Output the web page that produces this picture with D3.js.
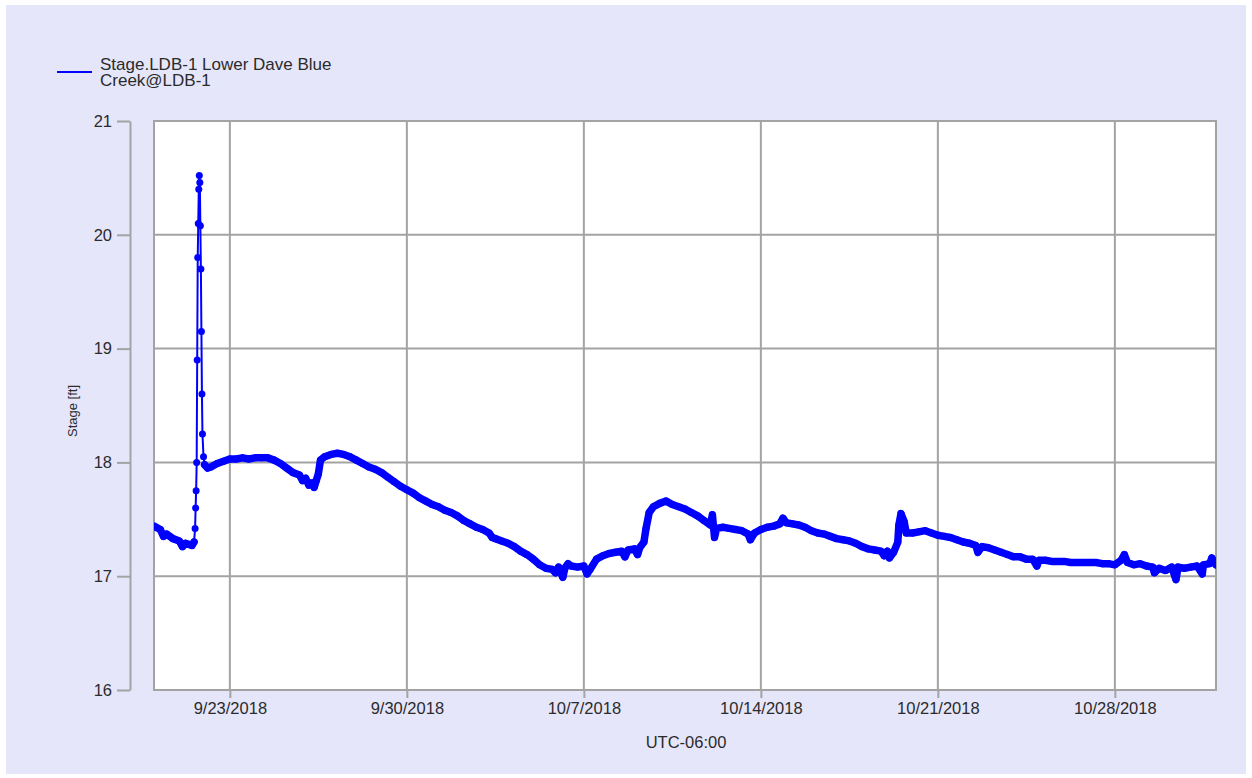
<!DOCTYPE html>
<html>
<head>
<meta charset="utf-8">
<script src="https://cdn.jsdelivr.net/npm/d3@7"></script>
<style>
  body { margin: 0; background: #ffffff; }
  text { font-family: "Liberation Sans", Arial, sans-serif; }
</style>
</head>
<body>
<div id="stageChartContainer"></div>
<script>

var chartConfig = {
  w: 1252,
  h: 778,
  left: 154,
  top: 121,
  right: 1216,
  bot: 690,
  yAxisX: 130
}

// legend text (two lines as in the original)
var legendLines = ["Stage.LDB-1 Lower Dave Blue", "Creek@LDB-1"];

var yTicks = [16, 17, 18, 19, 20, 21];
var xTickDates = ["2018-09-23", "2018-09-30", "2018-10-07", "2018-10-14", "2018-10-21", "2018-10-28"];
var xDomain = ["2018-09-20 00:00", "2018-11-01 00:00"];
var yDomain = [16, 21];

// stage readings [time, ft]
var stageReadings = [
  ["2018-09-20 00:00", 17.44], ["2018-09-20 06:00", 17.41], ["2018-09-20 09:00", 17.35], ["2018-09-20 12:00", 17.37],
  ["2018-09-20 18:00", 17.33], ["2018-09-21 00:00", 17.31], ["2018-09-21 03:00", 17.26], ["2018-09-21 06:00", 17.29],
  ["2018-09-21 12:00", 17.27], ["2018-09-21 14:00", 17.30], ["2018-09-21 15:00", 17.42], ["2018-09-21 15:30", 17.60],
  ["2018-09-21 16:00", 17.75], ["2018-09-21 16:30", 18.00], ["2018-09-21 17:00", 18.90], ["2018-09-21 17:30", 19.80],
  ["2018-09-21 18:00", 20.10], ["2018-09-21 18:30", 20.40], ["2018-09-21 19:00", 20.52], ["2018-09-21 19:30", 20.46],
  ["2018-09-21 20:00", 20.08], ["2018-09-21 20:30", 19.70], ["2018-09-21 21:00", 19.15], ["2018-09-21 21:30", 18.60],
  ["2018-09-21 22:00", 18.25], ["2018-09-21 23:00", 18.05], ["2018-09-22 00:00", 17.98], ["2018-09-22 03:00", 17.95],
  ["2018-09-22 06:00", 17.96], ["2018-09-22 12:00", 17.99], ["2018-09-22 18:00", 18.01],
  ["2018-09-23 00:00", 18.03], ["2018-09-23 06:00", 18.03], ["2018-09-23 12:00", 18.04], ["2018-09-23 18:00", 18.03],
  ["2018-09-24 00:00", 18.04], ["2018-09-24 06:00", 18.04], ["2018-09-24 12:00", 18.04], ["2018-09-24 18:00", 18.02],
  ["2018-09-25 00:00", 17.99], ["2018-09-25 06:00", 17.95], ["2018-09-25 12:00", 17.91], ["2018-09-25 18:00", 17.89],
  ["2018-09-25 21:00", 17.84], ["2018-09-26 00:00", 17.86], ["2018-09-26 03:00", 17.80], ["2018-09-26 06:00", 17.82],
  ["2018-09-26 08:00", 17.78], ["2018-09-26 10:00", 17.84], ["2018-09-26 12:00", 17.90], ["2018-09-26 14:00", 18.02],
  ["2018-09-26 18:00", 18.05], ["2018-09-27 00:00", 18.07], ["2018-09-27 06:00", 18.08], ["2018-09-27 12:00", 18.07],
  ["2018-09-27 18:00", 18.05], ["2018-09-28 00:00", 18.02], ["2018-09-28 06:00", 17.99], ["2018-09-28 12:00", 17.96],
  ["2018-09-28 18:00", 17.94], ["2018-09-29 00:00", 17.91], ["2018-09-29 06:00", 17.87], ["2018-09-29 12:00", 17.83],
  ["2018-09-29 18:00", 17.79], ["2018-09-30 00:00", 17.76], ["2018-09-30 06:00", 17.73], ["2018-09-30 12:00", 17.69],
  ["2018-09-30 18:00", 17.66], ["2018-10-01 00:00", 17.63], ["2018-10-01 06:00", 17.61], ["2018-10-01 12:00", 17.58],
  ["2018-10-01 18:00", 17.56], ["2018-10-02 00:00", 17.53], ["2018-10-02 06:00", 17.49], ["2018-10-02 12:00", 17.46],
  ["2018-10-02 18:00", 17.43], ["2018-10-03 00:00", 17.41], ["2018-10-03 06:00", 17.38], ["2018-10-03 09:00", 17.34],
  ["2018-10-03 12:00", 17.33], ["2018-10-03 18:00", 17.31], ["2018-10-04 00:00", 17.29], ["2018-10-04 06:00", 17.26],
  ["2018-10-04 12:00", 17.22], ["2018-10-04 18:00", 17.19], ["2018-10-05 00:00", 17.15], ["2018-10-05 06:00", 17.10],
  ["2018-10-05 12:00", 17.07], ["2018-10-05 18:00", 17.06], ["2018-10-05 21:00", 17.03], ["2018-10-06 00:00", 17.08],
  ["2018-10-06 04:00", 16.99], ["2018-10-06 06:00", 17.07], ["2018-10-06 09:00", 17.11], ["2018-10-06 12:00", 17.09],
  ["2018-10-06 18:00", 17.08], ["2018-10-07 00:00", 17.09], ["2018-10-07 03:00", 17.02], ["2018-10-07 06:00", 17.06],
  ["2018-10-07 12:00", 17.15], ["2018-10-07 18:00", 17.18], ["2018-10-08 00:00", 17.20], ["2018-10-08 06:00", 17.21],
  ["2018-10-08 12:00", 17.22], ["2018-10-08 15:00", 17.17], ["2018-10-08 18:00", 17.23], ["2018-10-09 00:00", 17.24],
  ["2018-10-09 03:00", 17.19], ["2018-10-09 05:00", 17.25], ["2018-10-09 09:00", 17.30], ["2018-10-09 11:00", 17.42],
  ["2018-10-09 14:00", 17.56], ["2018-10-09 18:00", 17.61], ["2018-10-10 00:00", 17.64], ["2018-10-10 06:00", 17.66],
  ["2018-10-10 12:00", 17.63], ["2018-10-10 18:00", 17.61], ["2018-10-11 00:00", 17.59], ["2018-10-11 06:00", 17.56],
  ["2018-10-11 12:00", 17.53], ["2018-10-11 18:00", 17.49], ["2018-10-12 00:00", 17.45], ["2018-10-12 02:00", 17.54],
  ["2018-10-12 04:00", 17.34], ["2018-10-12 06:00", 17.42], ["2018-10-12 12:00", 17.43], ["2018-10-12 18:00", 17.42],
  ["2018-10-13 00:00", 17.41], ["2018-10-13 06:00", 17.40], ["2018-10-13 12:00", 17.37], ["2018-10-13 14:00", 17.32],
  ["2018-10-13 18:00", 17.38], ["2018-10-14 00:00", 17.41], ["2018-10-14 06:00", 17.43], ["2018-10-14 12:00", 17.44],
  ["2018-10-14 18:00", 17.46], ["2018-10-14 21:00", 17.51], ["2018-10-15 00:00", 17.47], ["2018-10-15 06:00", 17.46],
  ["2018-10-15 12:00", 17.45], ["2018-10-15 18:00", 17.43], ["2018-10-16 00:00", 17.40], ["2018-10-16 06:00", 17.38],
  ["2018-10-16 12:00", 17.37], ["2018-10-16 18:00", 17.35], ["2018-10-17 00:00", 17.33], ["2018-10-17 06:00", 17.32],
  ["2018-10-17 12:00", 17.31], ["2018-10-17 18:00", 17.29], ["2018-10-18 00:00", 17.26], ["2018-10-18 06:00", 17.24],
  ["2018-10-18 12:00", 17.23], ["2018-10-18 18:00", 17.22], ["2018-10-18 21:00", 17.18], ["2018-10-19 00:00", 17.22],
  ["2018-10-19 02:00", 17.16], ["2018-10-19 06:00", 17.21], ["2018-10-19 10:00", 17.30], ["2018-10-19 11:00", 17.45],
  ["2018-10-19 13:00", 17.55], ["2018-10-19 16:00", 17.48], ["2018-10-19 18:00", 17.38], ["2018-10-20 00:00", 17.38],
  ["2018-10-20 06:00", 17.39], ["2018-10-20 12:00", 17.40], ["2018-10-20 18:00", 17.38], ["2018-10-21 00:00", 17.36],
  ["2018-10-21 06:00", 17.35], ["2018-10-21 12:00", 17.34], ["2018-10-21 18:00", 17.32], ["2018-10-22 00:00", 17.30],
  ["2018-10-22 06:00", 17.29], ["2018-10-22 12:00", 17.27], ["2018-10-22 14:00", 17.21], ["2018-10-22 18:00", 17.26],
  ["2018-10-23 00:00", 17.25], ["2018-10-23 06:00", 17.23], ["2018-10-23 12:00", 17.21], ["2018-10-23 18:00", 17.19],
  ["2018-10-24 00:00", 17.17], ["2018-10-24 06:00", 17.17], ["2018-10-24 12:00", 17.15], ["2018-10-24 18:00", 17.15],
  ["2018-10-24 22:00", 17.09], ["2018-10-25 00:00", 17.14], ["2018-10-25 06:00", 17.14], ["2018-10-25 12:00", 17.13],
  ["2018-10-25 18:00", 17.13], ["2018-10-26 00:00", 17.13], ["2018-10-26 06:00", 17.12], ["2018-10-26 12:00", 17.12],
  ["2018-10-26 18:00", 17.12], ["2018-10-27 00:00", 17.12], ["2018-10-27 06:00", 17.12], ["2018-10-27 12:00", 17.11],
  ["2018-10-27 18:00", 17.11], ["2018-10-28 00:00", 17.10], ["2018-10-28 06:00", 17.14], ["2018-10-28 09:00", 17.19],
  ["2018-10-28 12:00", 17.12], ["2018-10-28 18:00", 17.10], ["2018-10-29 00:00", 17.11], ["2018-10-29 06:00", 17.09],
  ["2018-10-29 12:00", 17.08], ["2018-10-29 13:30", 17.03], ["2018-10-29 18:00", 17.07], ["2018-10-30 00:00", 17.05],
  ["2018-10-30 06:00", 17.08], ["2018-10-30 10:00", 16.97], ["2018-10-30 12:00", 17.08], ["2018-10-30 18:00", 17.07],
  ["2018-10-31 00:00", 17.08], ["2018-10-31 06:00", 17.09], ["2018-10-31 11:00", 17.02], ["2018-10-31 12:00", 17.10],
  ["2018-10-31 18:00", 17.11], ["2018-10-31 20:00", 17.16], ["2018-11-01 00:00", 17.10]
];

// flood spike window: readings here are sparse, drawn with thin line + dots only
var spikeWindow = ["2018-09-21 14:00", "2018-09-22 00:00"];

var parseTime = d3.timeParse("%Y-%m-%d %H:%M"),
    parseDay = d3.timeParse("%Y-%m-%d");

var gridColor = "#a3a3a3",
    textColor = "#2b2b2b",
    seriesColor = "#0000ff";

var svg = d3.select("#stageChartContainer").append("svg")
  .attr("width", chartConfig.w)
  .attr("height", chartConfig.h);

// lavender panel behind everything
svg.append("rect")
  .attr("x", 6)
  .attr("y", 5)
  .attr("width", chartConfig.w - 12)
  .attr("height", chartConfig.h - 9)
  .style("fill", "#e6e6fa");

var x = d3.scaleTime()
  .domain(xDomain.map(parseTime))
  .range([chartConfig.left, chartConfig.right]);

var y = d3.scaleLinear()
  .domain(yDomain)
  .range([chartConfig.bot, chartConfig.top]);

function drawPlotArea(){

  svg.append("rect")
    .attr("x", chartConfig.left)
    .attr("y", chartConfig.top)
    .attr("width", chartConfig.right - chartConfig.left)
    .attr("height", chartConfig.bot - chartConfig.top)
    .style("fill", "white");

  // horizontal grid
  svg.append("g").selectAll("line")
    .data(yTicks.slice(1, -1))
    .enter().append("line")
    .attr("x1", chartConfig.left)
    .attr("x2", chartConfig.right)
    .attr("y1", function(d) { return y(d); })
    .attr("y2", function(d) { return y(d); })
    .style("stroke", gridColor)
    .style("stroke-width", 2);

  // vertical grid
  svg.append("g").selectAll("line")
    .data(xTickDates)
    .enter().append("line")
    .attr("x1", function(d) { return x(parseDay(d)); })
    .attr("x2", function(d) { return x(parseDay(d)); })
    .attr("y1", chartConfig.top)
    .attr("y2", chartConfig.bot)
    .style("stroke", gridColor)
    .style("stroke-width", 2);

  svg.append("rect")
    .attr("x", chartConfig.left)
    .attr("y", chartConfig.top)
    .attr("width", chartConfig.right - chartConfig.left)
    .attr("height", chartConfig.bot - chartConfig.top)
    .style("fill", "none")
    .style("stroke", gridColor)
    .style("stroke-width", 2);
}

function drawAxes(){

  var yAxis = svg.append("g")
    .attr("transform", "translate(" + chartConfig.yAxisX + ",0)")
    .call(d3.axisLeft(y)
      .tickValues(yTicks)
      .tickFormat(d3.format("d"))
      .tickSize(13)
      .tickSizeOuter(0)
      .tickPadding(5));

  var xAxis = svg.append("g")
    .attr("transform", "translate(0," + chartConfig.bot + ")")
    .call(d3.axisBottom(x)
      .tickValues(xTickDates.map(parseDay))
      .tickFormat(d3.timeFormat("%-m/%-d/%Y"))
      .tickSize(8)
      .tickPadding(4));

  xAxis.select(".domain").remove();

  svg.selectAll(".tick line")
    .style("stroke", gridColor)
    .style("stroke-width", 2);
  yAxis.select(".domain")
    .style("stroke", gridColor)
    .style("stroke-width", 2);

  svg.selectAll(".tick text")
    .style("font-family", "'Liberation Sans', Arial, sans-serif")
    .style("font-size", "16.5px")
    .style("fill", textColor);

  // axis titles
  svg.append("text")
    .attr("transform", "translate(77,411) rotate(-90)")
    .attr("text-anchor", "middle")
    .style("font-size", "13px")
    .style("fill", textColor)
    .text("Stage [ft]");

  svg.append("text")
    .attr("x", 686)
    .attr("y", 748)
    .attr("text-anchor", "middle")
    .style("font-size", "16.5px")
    .style("fill", textColor)
    .text("UTC-06:00");
}

function drawSeries(){

  var data = stageReadings.map(function(d) { return {t: parseTime(d[0]), v: d[1]}; });
  var spikeStart = parseTime(spikeWindow[0]),
      spikeEnd = parseTime(spikeWindow[1]);

  svg.append("clipPath")
    .attr("id", "plotClip")
    .append("rect")
    .attr("x", chartConfig.left)
    .attr("y", chartConfig.top)
    .attr("width", chartConfig.right - chartConfig.left)
    .attr("height", chartConfig.bot - chartConfig.top);

  var g = svg.append("g").attr("clip-path", "url(#plotClip)");

  var line = d3.line()
    .x(function(d) { return x(d.t); })
    .y(function(d) { return y(d.v); });

  // thin connecting line through every reading
  g.append("path")
    .datum(data)
    .attr("d", line)
    .style("fill", "none")
    .style("stroke", seriesColor)
    .style("stroke-width", 2);

  // dense noisy band of the baseflow readings
  g.append("path")
    .datum(data)
    .attr("d", line.defined(function(d) { return d.t <= spikeStart || d.t >= spikeEnd; }))
    .style("fill", "none")
    .style("stroke", seriesColor)
    .style("stroke-width", 7.5)
    .style("stroke-linejoin", "round")
    .style("stroke-linecap", "round");

  g.selectAll(".pt")
    .data(data)
    .enter().append("circle")
    .attr("class", "pt")
    .attr("cx", function(d) { return x(d.t); })
    .attr("cy", function(d) { return y(d.v); })
    .attr("r", 3.5)
    .style("fill", seriesColor);
}

function drawLegend(){

  svg.append("line")
    .attr("x1", 57)
    .attr("x2", 92)
    .attr("y1", 72)
    .attr("y2", 72)
    .style("stroke", seriesColor)
    .style("stroke-width", 2);

  svg.append("g").selectAll("text")
    .data(legendLines)
    .enter().append("text")
    .attr("x", 100)
    .attr("y", function(d, i) { return 70 + i * 15.5; })
    .style("font-size", "17px")
    .style("fill", textColor)
    .text(function(d) { return d; });
}

drawPlotArea();
drawAxes();
drawSeries();
drawLegend();

</script>
</body>
</html>
